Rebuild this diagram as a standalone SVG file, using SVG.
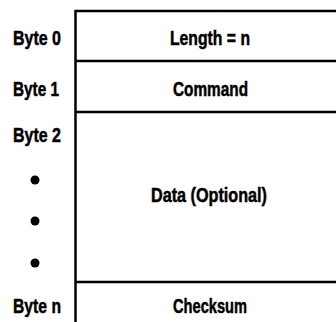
<svg xmlns="http://www.w3.org/2000/svg" width="336" height="322" viewBox="0 0 336 322">
<style>
.l{stroke:#000;stroke-width:2.5;fill:none}
text{font-family:"Liberation Sans",Arial,sans-serif;font-weight:bold;font-size:20.5px;fill:#000;stroke:#000;stroke-width:0.5}
</style>
<rect width="336" height="322" fill="#fff"/>
<g id="connectors">
<path class="l" d="M75.5 322V11H336"/>
<path class="l" d="M75.5 61H336M75.5 112H336M75.5 282H336"/>
</g>
<g id="byte0"><text x="13" y="45" textLength="48" lengthAdjust="spacingAndGlyphs">Byte 0</text></g>
<g id="byte1"><text x="13" y="96" textLength="46" lengthAdjust="spacingAndGlyphs">Byte 1</text></g>
<g id="byte2"><text x="13" y="142" textLength="48" lengthAdjust="spacingAndGlyphs">Byte 2</text></g>
<g id="dots"><circle cx="35" cy="180" r="4.5"/><circle cx="35" cy="221" r="4.5"/><circle cx="35" cy="263" r="4.5"/></g>
<g id="byten"><text x="13" y="313" textLength="48" lengthAdjust="spacingAndGlyphs">Byte n</text></g>
<g id="length"><text x="170" y="45" textLength="80" lengthAdjust="spacingAndGlyphs">Length = n</text></g>
<g id="command"><text x="173" y="96" textLength="75" lengthAdjust="spacingAndGlyphs">Command</text></g>
<g id="data"><text x="151" y="202" textLength="116" lengthAdjust="spacingAndGlyphs">Data (Optional)</text></g>
<g id="checksum"><text x="173" y="313" textLength="74" lengthAdjust="spacingAndGlyphs">Checksum</text></g>
</svg>
